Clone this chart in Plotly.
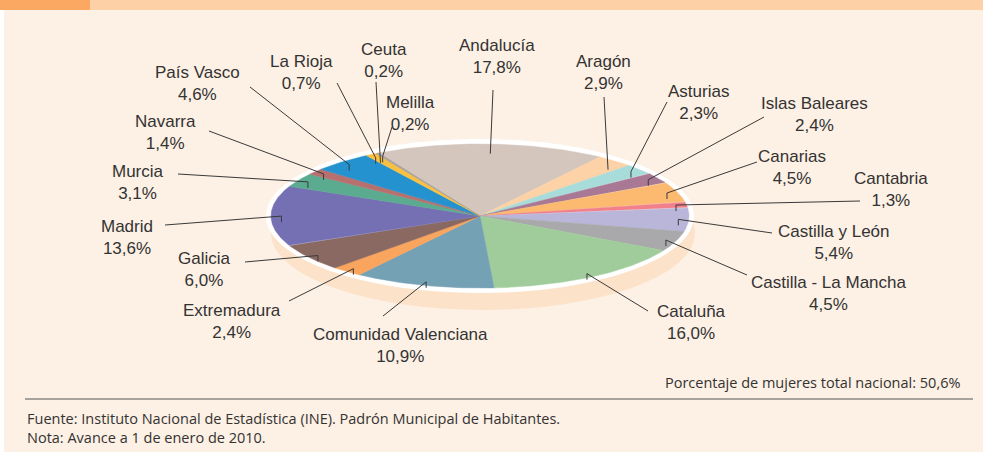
import numpy as np
import plotly.graph_objects as go

# ---------------- data ----------------
regions = ["Andalucía", "Aragón", "Asturias", "Islas Baleares", "Canarias", "Cantabria",
           "Castilla y León", "Castilla - La Mancha", "Cataluña", "Comunidad Valenciana",
           "Extremadura", "Galicia", "Madrid", "Murcia", "Navarra", "País Vasco",
           "La Rioja", "Ceuta", "Melilla"]
shares = [17.8, 2.9, 2.3, 2.4, 4.5, 1.3, 5.4, 4.5, 16.0, 10.9, 2.4, 6.0, 13.6, 3.1, 1.4,
          4.6, 0.7, 0.2, 0.2]
share_labels = ["17,8%", "2,9%", "2,3%", "2,4%", "4,5%", "1,3%", "5,4%", "4,5%", "16,0%",
                "10,9%", "2,4%", "6,0%", "13,6%", "3,1%", "1,4%", "4,6%", "0,7%", "0,2%", "0,2%"]
total_note = "Porcentaje de mujeres total nacional: 50,6%"
source_note = "Fuente: Instituto Nacional de Estadística (INE). Padrón Municipal de Habitantes."
extra_note = "Nota: Avance a 1 de enero de 2010."

# ---------------- styles / layout ----------------
colors = ["#D4C5BD", "#FDD2A6", "#A8DCDA", "#A87894", "#FBBA70", "#F2808A", "#BAB6DA",
          "#A9A9AB", "#A0CC9C", "#74A1B4", "#F9A55E", "#8A6962", "#7570B3", "#5AAB8F",
          "#B6706E", "#2492CE", "#F9C142", "#F5B545", "#A0A0A0"]

# label block centre (x, y) and leader start point (x, y) in page pixels
label_pos = [(497, 56), (603, 72), (698, 102), (814, 114), (792, 167), (891, 189),
             (834, 242), (829, 293), (691, 322), (400, 345), (232, 321), (204, 269),
             (127, 237), (138, 182), (165, 132), (197, 83), (301, 72), (384, 60), (410, 113)]
line_start = [(493, 90), (604, 97), (667, 102), (764, 117), (757, 162), (860, 201),
              (772, 233), (747, 275), (648, 311), (383, 316), (289, 301), (245, 262),
              (165, 225), (178, 174), (209, 131), (250, 87), (337, 83), (376, 82), (392, 127)]

W, H = 983, 452
cx, cy, rx, ry = 480, 216, 209, 72
start_angle = -29.0          # degrees, clockwise from 12 o'clock
anchor_frac = 0.95
BG = "#FDF0E4"

total = sum(shares)
fig = go.Figure()

# slices
ang = start_angle
mids = []
for name, v, col in zip(regions, shares, colors):
    span = v / total * 360.0
    th = np.radians(np.linspace(ang, ang + span, max(3, int(span * 2) + 2)))
    xs = np.concatenate([[cx], cx + rx * np.sin(th), [cx]])
    ys = np.concatenate([[cy], cy - ry * np.cos(th), [cy]])
    fig.add_trace(go.Scatter(x=xs, y=ys, mode="lines", fill="toself", fillcolor=col,
                             line=dict(color=col, width=0.5), hoverinfo="text",
                             text=name, showlegend=False))
    mids.append(ang + span / 2)
    ang += span

# leader lines
lx, ly = [], []
for (sx, sy), m in zip(line_start, mids):
    t = np.radians(m)
    ax = cx + rx * anchor_frac * np.sin(t)
    ay = cy - ry * anchor_frac * np.cos(t)
    lx += [sx, ax, ax, None]
    ly += [sy, ay, ay + 6, None]
fig.add_trace(go.Scatter(x=lx, y=ly, mode="lines", line=dict(color="#3a3a3a", width=1),
                         hoverinfo="skip", showlegend=False))

# labels
for name, lab, (px, py) in zip(regions, share_labels, label_pos):
    fig.add_annotation(x=px, y=py, xref="x", yref="y", text=f"{name}<br>{lab}",
                       showarrow=False, xanchor="center", yanchor="middle",
                       font=dict(family="Liberation Sans, Arial", size=17, color="#333333"))

shapes = [
    dict(type="rect", x0=4, x1=W, y0=0, y1=H, fillcolor=BG, line=dict(width=0), layer="below"),
    dict(type="rect", x0=0, x1=90, y0=0, y1=10, fillcolor="#FBA862", line=dict(width=0), layer="below"),
    dict(type="rect", x0=90, x1=W, y0=0, y1=10, fillcolor="#FDD0A6", line=dict(width=0), layer="below"),
    # 3D base
    dict(type="circle", x0=cx + 3 - 212, x1=cx + 3 + 212, y0=233 - 77, y1=233 + 77,
         fillcolor="#FDE2CA", line=dict(width=0), layer="below"),
    # white rim
    dict(type="circle", x0=cx - rx - 5, x1=cx + rx + 5, y0=cy - ry - 5, y1=cy + ry + 5,
         fillcolor="white", line=dict(width=0), layer="below"),
    # footer rule
    dict(type="line", x0=25, x1=973, y0=399, y1=399, line=dict(color="#555555", width=1.2)),
]

foot_font = dict(family="Open Sans", size=14.5, color="#333333")
fig.add_annotation(x=962, y=382, xref="x", yref="y", text=total_note, showarrow=False,
                   xanchor="right", yanchor="middle", font=foot_font)
fig.add_annotation(x=25, y=418, xref="x", yref="y", text=source_note, showarrow=False,
                   xanchor="left", yanchor="middle", font=foot_font)
fig.add_annotation(x=25, y=437, xref="x", yref="y", text=extra_note, showarrow=False,
                   xanchor="left", yanchor="middle", font=foot_font)

fig.update_layout(
    width=W, height=H, margin=dict(l=0, r=0, t=0, b=0),
    paper_bgcolor="white", plot_bgcolor="white",
    shapes=shapes,
    xaxis=dict(range=[0, W], visible=False, fixedrange=True),
    yaxis=dict(range=[H, 0], visible=False, fixedrange=True),
    showlegend=False,
)

fig.write_html("out.html", config={"displayModeBar": False},
               post_script="document.body.style.margin='0';document.body.style.overflow='hidden';")
